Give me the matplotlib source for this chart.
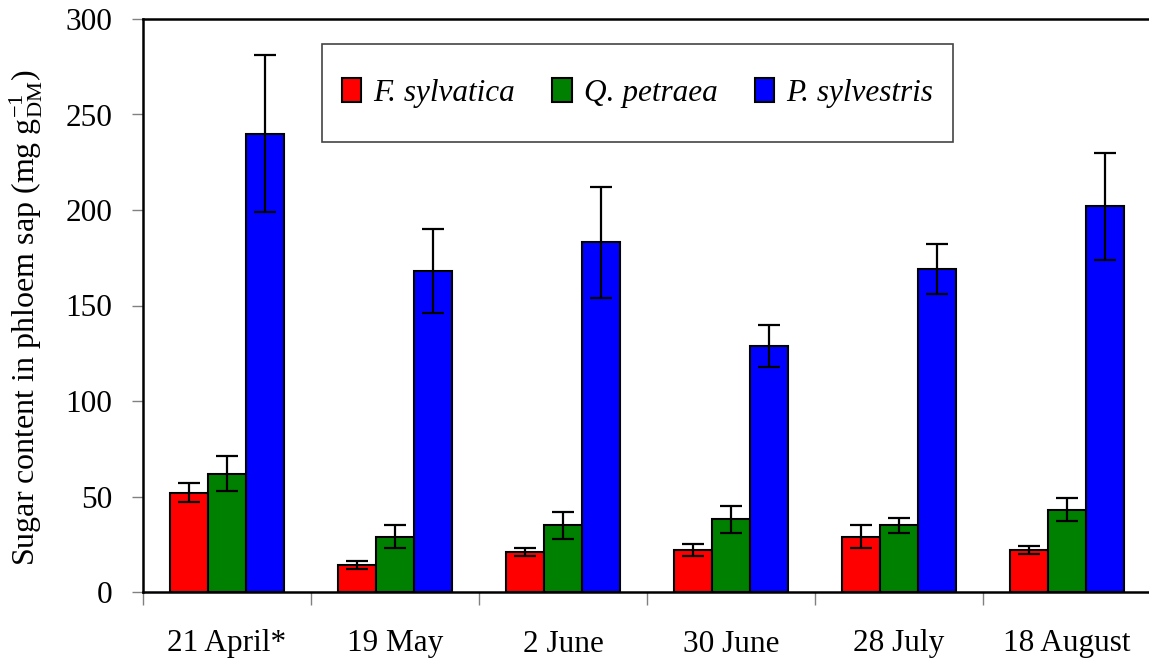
import matplotlib
matplotlib.use("Agg")
import matplotlib.pyplot as plt
from matplotlib.patches import Rectangle
import numpy as np

dates = ["21 April*", "19 May", "2 June", "30 June", "28 July", "18 August"]
species = ["F. sylvatica", "Q. petraea", "P. sylvestris"]
colors = ["#ff0000", "#008000", "#0000ff"]

fagus = [52, 14, 21, 22, 29, 22]
fagus_err = [5, 2, 2, 3, 6, 2]
quercus = [62, 29, 35, 38, 35, 43]
quercus_err = [9, 6, 7, 7, 4, 6]
pinus = [240, 168, 183, 129, 169, 202]
pinus_err = [41, 22, 29, 11, 13, 28]

plt.rcParams["font.family"] = ["Liberation Serif", "DejaVu Serif"]
plt.rcParams["mathtext.fontset"] = "custom"
plt.rcParams["mathtext.rm"] = "Liberation Serif"
plt.rcParams["mathtext.it"] = "Liberation Serif:italic"

fig = plt.figure(figsize=(11.49, 6.63), dpi=100)
ax = fig.add_axes([143 / 1149, 71 / 663, 1008 / 1149, 573 / 663])

x = np.arange(len(dates))
w = 1 / 4.42
series = [(fagus, fagus_err), (quercus, quercus_err), (pinus, pinus_err)]
for i, (vals, errs) in enumerate(series):
    ax.bar(x + (i - 1) * w, vals, w, yerr=errs, color=colors[i],
           edgecolor="black", linewidth=1.5, label=species[i],
           error_kw=dict(ecolor="black", elinewidth=1.6, capsize=8, capthick=1.6))

ax.set_xlim(-0.5, 5.5)
ax.set_ylim(0, 300)
ax.set_yticks(range(0, 301, 50))
ax.set_xticks(x)
ax.set_xticklabels(dates)
ax.set_xticks(np.arange(-0.5, 5.6, 1), minor=True)
ax.tick_params(axis="x", which="major", length=0, pad=27, labelsize=22.5)
ax.tick_params(axis="x", which="minor", length=9, width=1, color="#808080")
ax.tick_params(axis="y", length=8, width=1, color="#808080", pad=14, labelsize=22.5)

for s in ["left", "bottom", "top"]:
    ax.spines[s].set_linewidth(1.8)
ax.spines["right"].set_visible(False)

ax.set_ylabel(r"Sugar content in phloem sap (mg g$^{-1}_{\mathrm{DM}}$)", fontsize=23)
ax.yaxis.set_label_coords(-0.097, 0.478)

# legend box drawn separately so its size matches the original frame
box = Rectangle((0.1776, 0.785), 0.626, 0.171, transform=ax.transAxes, fill=True,
                facecolor="white", edgecolor="#444444", linewidth=1.2, zorder=4)
ax.add_patch(box)
leg = ax.legend(loc="center", bbox_to_anchor=(0.1776 + 0.313, 0.785 + 0.0855),
                ncol=3, frameon=False, prop=dict(style="italic", size=22.5),
                handlelength=0.62, handleheight=0.8, handletextpad=0.38, columnspacing=1.2,
                borderpad=0, borderaxespad=0)
leg.set_zorder(5)

fig.savefig("out.png", dpi=100)
